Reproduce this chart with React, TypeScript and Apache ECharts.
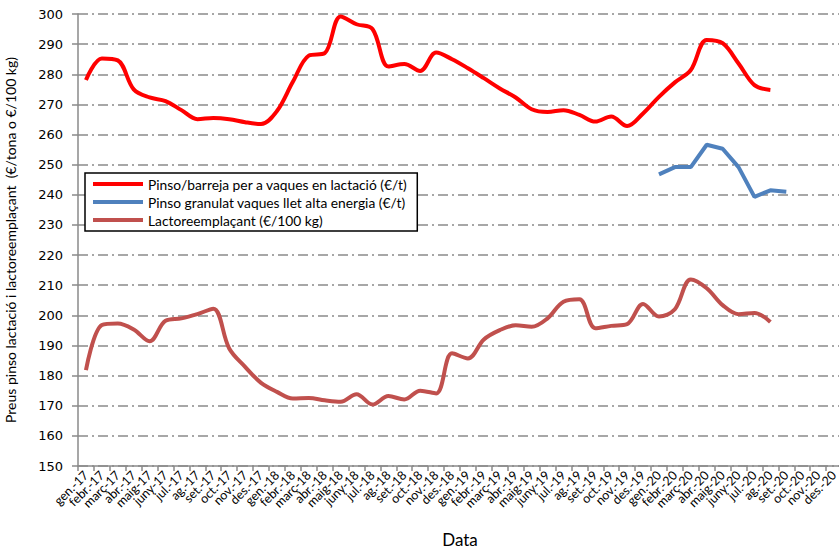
import React, { useEffect, useRef } from "react";
import * as echarts from "echarts";

const categories = [
  "gen.-17", "febr.-17", "març-17", "abr.-17", "maig-17", "juny-17", "jul.-17", "ag.-17", "set.-17", "oct.-17", "nov.-17", "des.-17",
  "gen.-18", "febr.-18", "març-18", "abr.-18", "maig-18", "juny-18", "jul.-18", "ag.-18", "set.-18", "oct.-18", "nov.-18", "des.-18",
  "gen.-19", "febr.-19", "març-19", "abr.-19", "maig-19", "juny-19", "jul.-19", "ag.-19", "set.-19", "oct.-19", "nov.-19", "des.-19",
  "gen.-20", "febr.-20", "març-20", "abr.-20", "maig-20", "juny-20", "jul.-20", "ag.-20", "set.-20", "oct.-20", "nov.-20", "des.-20",
];

const pinsoLactacio = [
  278.1, 285.2, 284.6, 275.0, 272.3, 271.1, 268.1, 265.1, 265.5, 265.1, 264.1, 263.5,
  267.8, 277.5, 286.2, 287.0, 299.2, 296.6, 295.0, 282.6, 283.4, 281.1, 287.2, 285.0,
  282.0, 278.7, 275.3, 272.3, 268.4, 267.5, 268.1, 266.5, 264.3, 266.0, 262.8, 267.0,
  272.5, 277.3, 281.4, 291.4, 290.3, 283.6, 276.4, 274.8, null, null, null, null,
];

const pinsoGranulat = [
  null, null, null, null, null, null, null, null, null, null, null, null,
  null, null, null, null, null, null, null, null, null, null, null, null,
  null, null, null, null, null, null, null, null, null, null, null, null,
  246.8, 249.2, 249.2, 256.6, 255.3, 249.2, 239.3, 241.5, 241.0, null, null, null,
];

const lactoreemplacant = [
  181.8, 196.8, 197.3, 195.3, 191.4, 198.2, 199.0, 200.4, 202.2, 189.0, 182.9, 177.6,
  174.6, 172.4, 172.6, 171.8, 171.3, 173.8, 170.4, 173.2, 172.1, 175.0, 174.1, 187.4,
  185.7, 192.0, 195.1, 196.7, 196.2, 199.0, 204.5, 205.3, 195.7, 196.5, 197.1, 203.8,
  199.6, 202.0, 211.9, 209.0, 203.4, 200.4, 200.8, 197.8, null, null, null, null,
];

const seriesNames = [
  "Pinso/barreja per a vaques en lactació (€/t)",
  "Pinso granulat vaques llet alta energia (€/t)",
  "Lactoreemplaçant (€/100 kg)",
];

const yTitle = "Preus pinso lactació i lactoreemplaçant  (€/tona o €/100 kg)";
const xTitle = "Data";

export default function App() {
  const ref = useRef<HTMLDivElement>(null);
  useEffect(() => {
    if (!ref.current) return;
    const chart = echarts.init(ref.current, null, { renderer: "svg" });
    const gridColor = "#8a8a8a";
    chart.setOption({
      animation: false,
      backgroundColor: "#ffffff",
      textStyle: { fontFamily: "Lato" },
      grid: { left: 78, right: -3, top: 14, bottom: 85, containLabel: false, outerBoundsMode: "none" },
      legend: {
        show: true,
        orient: "vertical",
        left: 85,
        top: 173,
        icon: "rect",
        itemWidth: 50,
        itemHeight: 4,
        itemGap: 4,
        padding: [4, 10, 4, 8],
        backgroundColor: "#ffffff",
        borderColor: "#000000",
        borderWidth: 1.5,
        borderRadius: 0,
        textStyle: { fontFamily: "Lato", fontSize: 13.8, color: "#000000" },
        data: seriesNames,
      },
      xAxis: {
        type: "category",
        data: categories,
        boundaryGap: true,
        name: xTitle,
        nameLocation: "middle",
        nameGap: 65,
        nameTextStyle: { fontFamily: "Lato", fontSize: 17, color: "#000000" },
        axisLine: { show: true, lineStyle: { color: gridColor, width: 1.5 } },
        axisTick: { show: true, length: 5, lineStyle: { color: gridColor, width: 1.5 } },
        axisLabel: {
          interval: 0,
          rotate: 45,
          fontFamily: "Lato",
          fontSize: 12.5,
          color: "#000000",
          margin: 7,
        },
        splitLine: { show: false },
      },
      yAxis: {
        type: "value",
        min: 150,
        max: 300,
        interval: 10,
        name: yTitle,
        nameLocation: "middle",
        nameGap: 61,
        nameTextStyle: { fontFamily: "Lato", fontSize: 14, color: "#000000" },
        axisLine: { show: true, lineStyle: { color: gridColor, width: 1.5 } },
        axisTick: { show: true, length: 6, lineStyle: { color: gridColor, width: 1.5 } },
        axisLabel: { fontFamily: "DejaVu Sans", fontSize: 13, color: "#000000", margin: 15 },
        splitLine: {
          show: true,
          lineStyle: { color: gridColor, width: 1.5, type: [10, 4, 2, 4] },
        },
      },
      series: [
        {
          name: seriesNames[0],
          type: "line",
          data: pinsoLactacio,
          smooth: 0.35,
          symbol: "none",
          connectNulls: false,
          lineStyle: { color: "#ff0000", width: 4 },
          itemStyle: { color: "#ff0000" },
        },
        {
          name: seriesNames[1],
          type: "line",
          data: pinsoGranulat,
          smooth: false,
          symbol: "none",
          lineStyle: { color: "#4f81bd", width: 4 },
          itemStyle: { color: "#4f81bd" },
        },
        {
          name: seriesNames[2],
          type: "line",
          data: lactoreemplacant,
          smooth: 0.35,
          symbol: "none",
          lineStyle: { color: "#c0504d", width: 4 },
          itemStyle: { color: "#c0504d" },
        },
      ],
    });
    return () => chart.dispose();
  }, []);
  return (
    <div
      ref={ref}
      style={{ position: "fixed", left: 0, top: 0, width: 839, height: 551, background: "#fff" }}
    />
  );
}
